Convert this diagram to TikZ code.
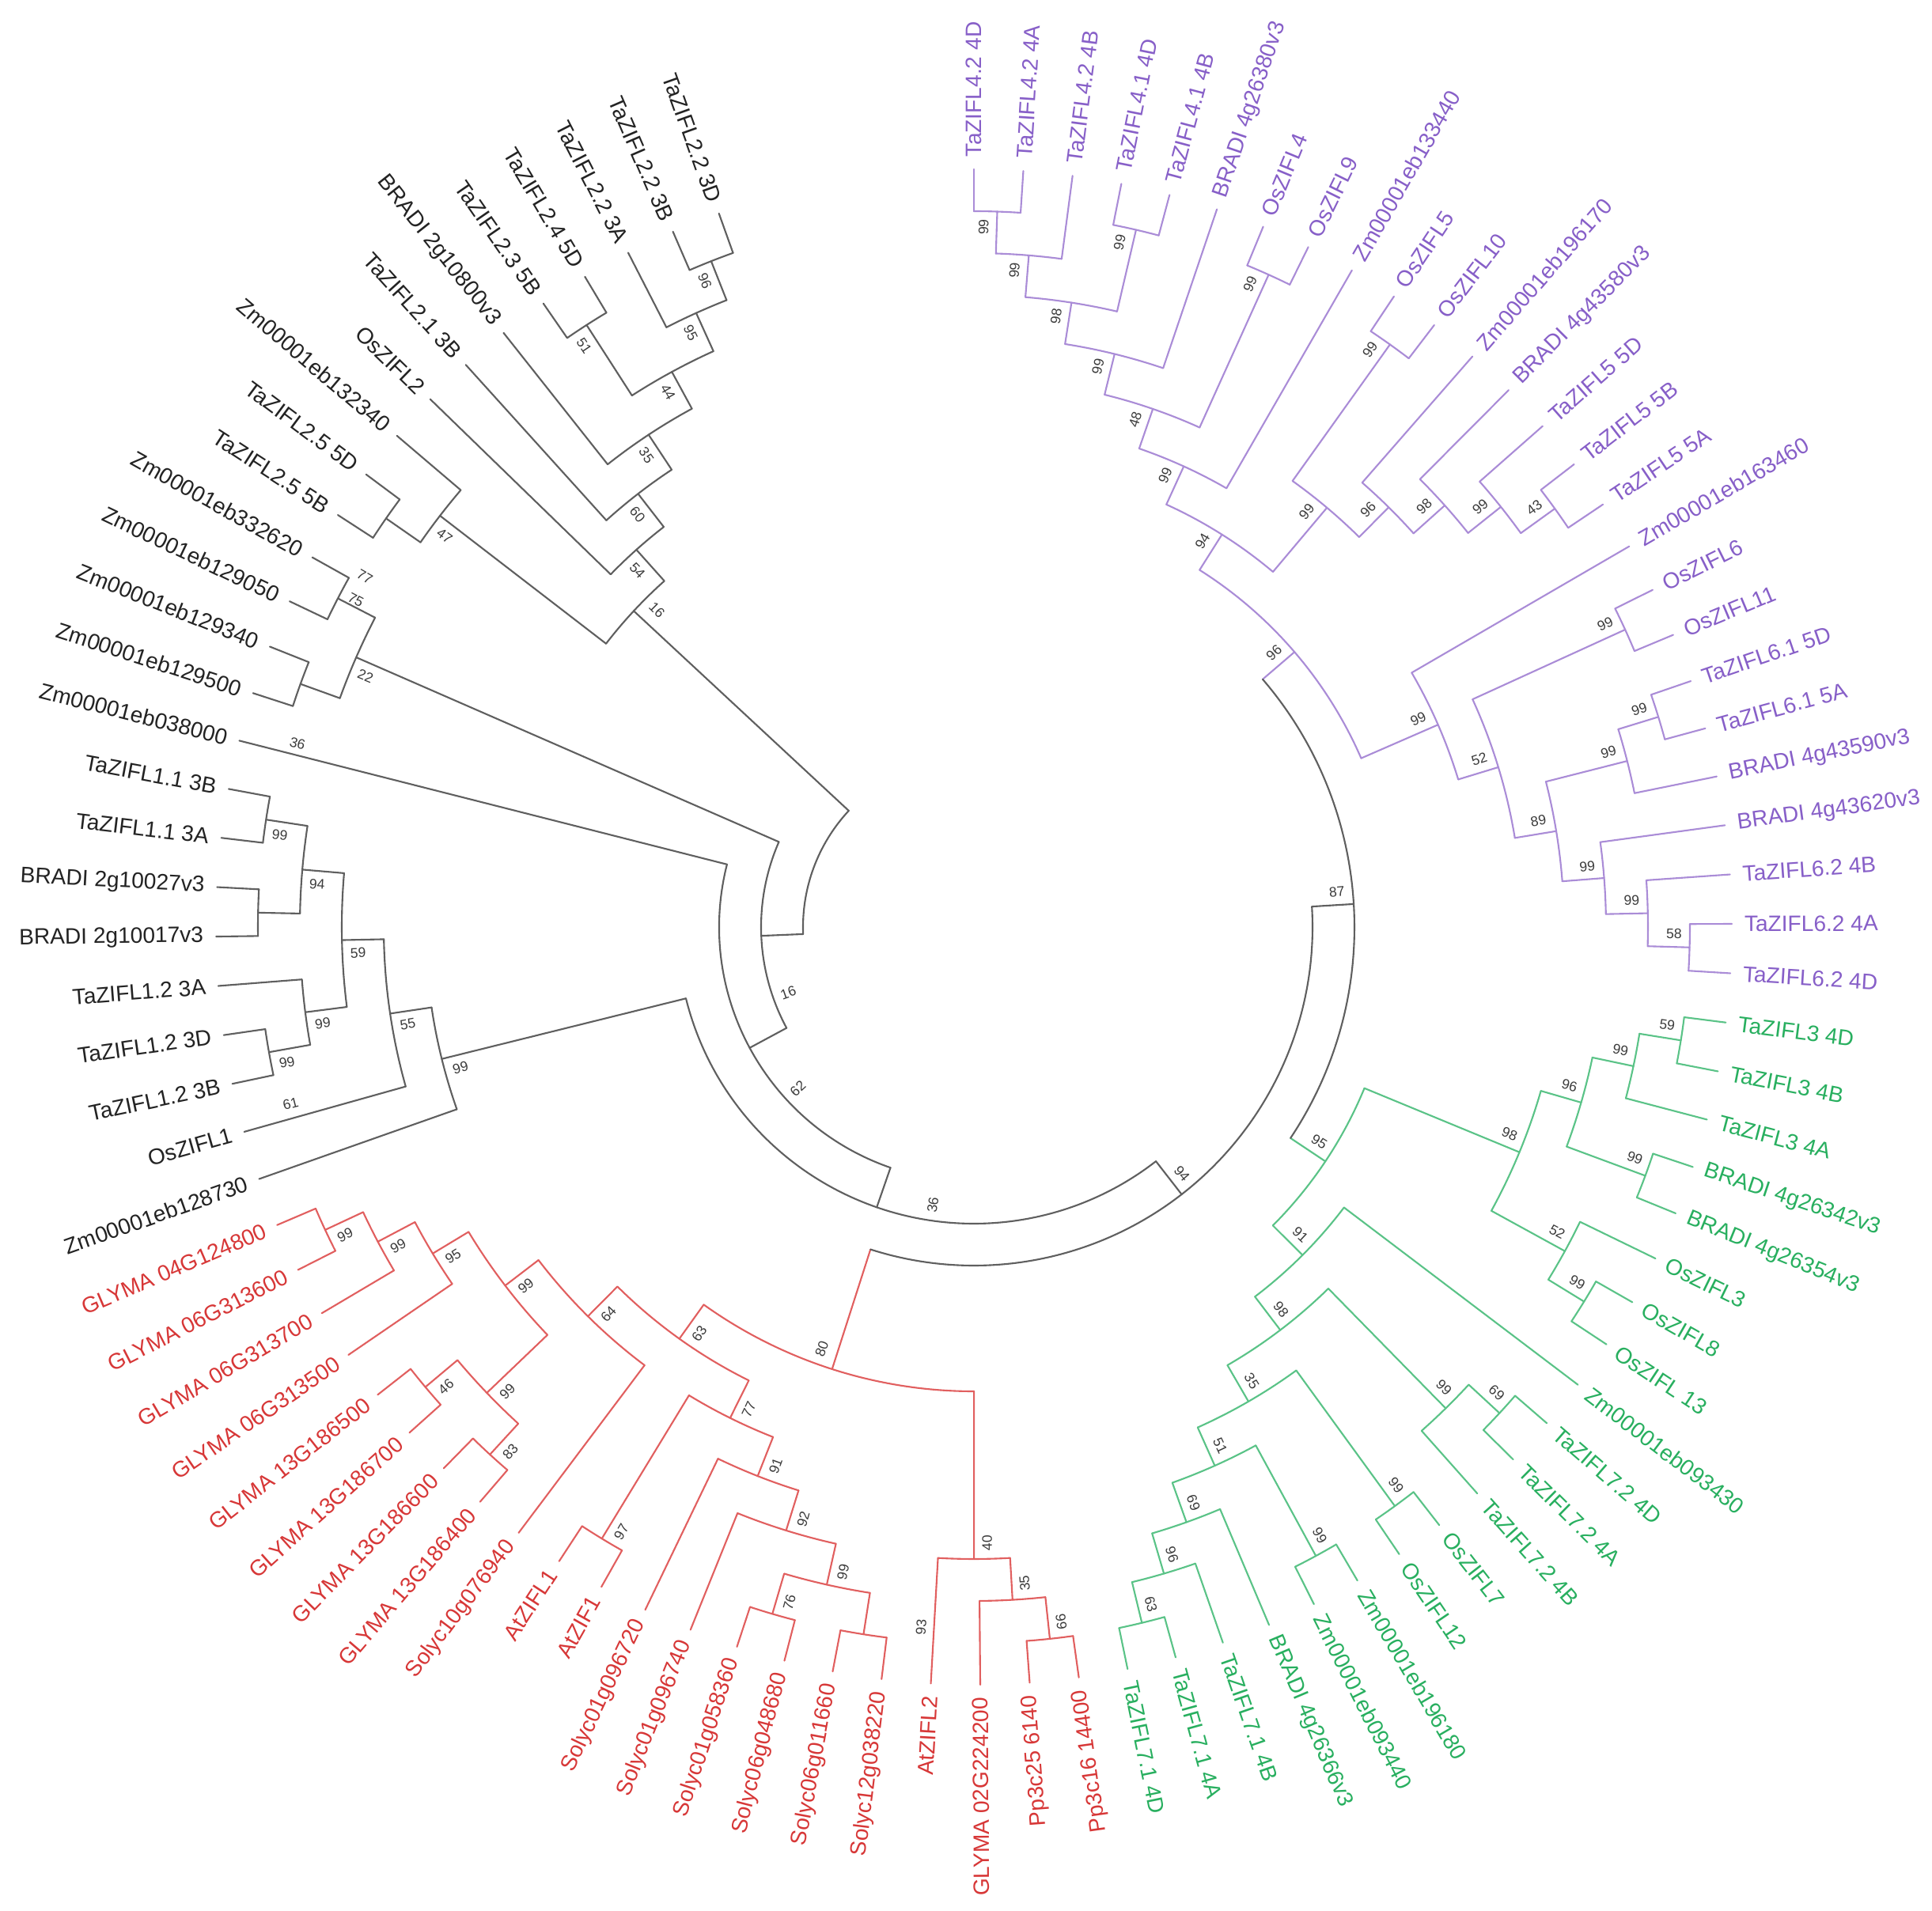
\documentclass[tikz,border=0pt]{standalone}
\usepackage{fontspec}
\setmainfont{Liberation Sans}
\definecolor{pu}{RGB}{170,140,215}
\definecolor{putxt}{RGB}{135,95,200}
\definecolor{gr}{RGB}{90,195,135}
\definecolor{grtxt}{RGB}{40,175,95}
\definecolor{rd}{RGB}{225,95,95}
\definecolor{rdtxt}{RGB}{215,55,55}
\definecolor{bk}{RGB}{95,95,95}
\definecolor{bktxt}{RGB}{35,35,35}
\definecolor{bootc}{RGB}{60,60,60}
\def\Rtip{9.58}
\def\stepr{0.53}
\tikzset{
  branch/.style={line width=0.6pt, line cap=round, line join=round},
  leaflab/.style={font=\fontsize{8}{9.6}\selectfont, inner sep=0pt, outer sep=0pt},
  boot/.style={font=\fontsize{5}{6}\selectfont, text=bootc, inner sep=0pt},
}
\newcommand\mkleaf[4]{%
  \pgfmathsetmacro\tmpa{90-(#2-1)*3.74}%
  \expandafter\xdef\csname zfa#1\endcsname{\tmpa}%
  \expandafter\xdef\csname zfc#1\endcsname{#4}%
  \coordinate (#1) at (\tmpa:\Rtip);%
  \pgfmathsetmacro\tmpr{\Rtip+0.16}%
  \ifdim\tmpa pt<-80pt\relax
    \pgfmathsetmacro\tmprot{\tmpa+180}%
    \node[leaflab,text=#4txt,anchor=east,rotate=\tmprot] (#1-lab) at (\tmpa:\tmpr) {#3};%
  \else
    \node[leaflab,text=#4txt,anchor=west,rotate=\tmpa] (#1-lab) at (\tmpa:\tmpr) {#3};%
  \fi
}
\newcommand\zfbootat[3]{%
  \ifdim#1pt<-80pt\relax
    \pgfmathsetmacro\tmprot{#1+180}%
  \else
    \pgfmathsetmacro\tmprot{#1}%
  \fi
  \node[boot,rotate=\tmprot] at (#1:#2) {#3};%
}
\newcommand\mknode[7][0]{%
  \edef\zfaA{\csname zfa#4\endcsname}%
  \edef\zfaB{\csname zfa#5\endcsname}%
  \edef\zfcA{\csname zfc#4\endcsname}%
  \edef\zfcB{\csname zfc#5\endcsname}%
  \pgfmathsetmacro\tmpa{(\zfaA+\zfaB)/2}%
  \pgfmathsetmacro\tmpr{\Rtip-#3*\stepr}%
  \expandafter\xdef\csname zfa#2\endcsname{\tmpa}%
  \expandafter\xdef\csname zfc#2\endcsname{#6}%
  \coordinate (#2) at (\tmpa:\tmpr);%
  \draw[branch,draw=\zfcA] (\zfaA:\tmpr) -- (#4);%
  \draw[branch,draw=\zfcB] (\zfaB:\tmpr) -- (#5);%
  \draw[branch,draw=#6] (\zfaA:\tmpr) arc[start angle=\zfaA, end angle=\zfaB, radius=\tmpr];%
  \def\zfboot{#7}%
  \ifx\zfboot\empty\else
    \pgfmathsetmacro\tmpba{\tmpa+0.17/\tmpr*57.2958+#1}%
    \pgfmathsetmacro\tmpbr{\tmpr-0.2}%
    \zfbootat{\tmpba}{\tmpbr}{#7}%
  \fi
}
\begin{document}
\begin{tikzpicture}
\useasboundingbox (-12.31,-12.43) rectangle (12.11,11.72);
\fill[white] (-12.31,-12.43) rectangle (12.11,11.72);
% ---------------- leaves ----------------
\mkleaf{L1}{1}{TaZIFL4.2 4D}{pu}
\mkleaf{L2}{2}{TaZIFL4.2 4A}{pu}
\mkleaf{L3}{3}{TaZIFL4.2 4B}{pu}
\mkleaf{L4}{4}{TaZIFL4.1 4D}{pu}
\mkleaf{L5}{5}{TaZIFL4.1 4B}{pu}
\mkleaf{L6}{6}{BRADI 4g26380v3}{pu}
\mkleaf{L7}{7}{OsZIFL4}{pu}
\mkleaf{L8}{8}{OsZIFL9}{pu}
\mkleaf{L9}{9}{Zm00001eb133440}{pu}
\mkleaf{L10}{10}{OsZIFL5}{pu}
\mkleaf{L11}{11}{OsZIFL10}{pu}
\mkleaf{L12}{12}{Zm00001eb196170}{pu}
\mkleaf{L13}{13}{BRADI 4g43580v3}{pu}
\mkleaf{L14}{14}{TaZIFL5 5D}{pu}
\mkleaf{L15}{15}{TaZIFL5 5B}{pu}
\mkleaf{L16}{16}{TaZIFL5 5A}{pu}
\mkleaf{L17}{17}{Zm00001eb163460}{pu}
\mkleaf{L18}{18}{OsZIFL6}{pu}
\mkleaf{L19}{19}{OsZIFL11}{pu}
\mkleaf{L20}{20}{TaZIFL6.1 5D}{pu}
\mkleaf{L21}{21}{TaZIFL6.1 5A}{pu}
\mkleaf{L22}{22}{BRADI 4g43590v3}{pu}
\mkleaf{L23}{23}{BRADI 4g43620v3}{pu}
\mkleaf{L24}{24}{TaZIFL6.2 4B}{pu}
\mkleaf{L25}{25}{TaZIFL6.2 4A}{pu}
\mkleaf{L26}{26}{TaZIFL6.2 4D}{pu}
\mkleaf{L27}{27}{TaZIFL3 4D}{gr}
\mkleaf{L28}{28}{TaZIFL3 4B}{gr}
\mkleaf{L29}{29}{TaZIFL3 4A}{gr}
\mkleaf{L30}{30}{BRADI 4g26342v3}{gr}
\mkleaf{L31}{31}{BRADI 4g26354v3}{gr}
\mkleaf{L32}{32}{OsZIFL3}{gr}
\mkleaf{L33}{33}{OsZIFL8}{gr}
\mkleaf{L34}{34}{OsZIFL 13}{gr}
\mkleaf{L35}{35}{Zm00001eb093430}{gr}
\mkleaf{L36}{36}{TaZIFL7.2 4D}{gr}
\mkleaf{L37}{37}{TaZIFL7.2 4A}{gr}
\mkleaf{L38}{38}{TaZIFL7.2 4B}{gr}
\mkleaf{L39}{39}{OsZIFL7}{gr}
\mkleaf{L40}{40}{OsZIFL12}{gr}
\mkleaf{L41}{41}{Zm00001eb196180}{gr}
\mkleaf{L42}{42}{Zm00001eb093440}{gr}
\mkleaf{L43}{43}{BRADI 4g26366v3}{gr}
\mkleaf{L44}{44}{TaZIFL7.1 4B}{gr}
\mkleaf{L45}{45}{TaZIFL7.1 4A}{gr}
\mkleaf{L46}{46}{TaZIFL7.1 4D}{gr}
\mkleaf{L47}{47}{Pp3c16 14400}{rd}
\mkleaf{L48}{48}{Pp3c25 6140}{rd}
\mkleaf{L49}{49}{GLYMA 02G224200}{rd}
\mkleaf{L50}{50}{AtZIFL2}{rd}
\mkleaf{L51}{51}{Solyc12g038220}{rd}
\mkleaf{L52}{52}{Solyc06g011660}{rd}
\mkleaf{L53}{53}{Solyc06g048680}{rd}
\mkleaf{L54}{54}{Solyc01g058360}{rd}
\mkleaf{L55}{55}{Solyc01g096740}{rd}
\mkleaf{L56}{56}{Solyc01g096720}{rd}
\mkleaf{L57}{57}{AtZIF1}{rd}
\mkleaf{L58}{58}{AtZIFL1}{rd}
\mkleaf{L59}{59}{Solyc10g076940}{rd}
\mkleaf{L60}{60}{GLYMA 13G186400}{rd}
\mkleaf{L61}{61}{GLYMA 13G186600}{rd}
\mkleaf{L62}{62}{GLYMA 13G186700}{rd}
\mkleaf{L63}{63}{GLYMA 13G186500}{rd}
\mkleaf{L64}{64}{GLYMA 06G313500}{rd}
\mkleaf{L65}{65}{GLYMA 06G313700}{rd}
\mkleaf{L66}{66}{GLYMA 06G313600}{rd}
\mkleaf{L67}{67}{GLYMA 04G124800}{rd}
\mkleaf{L68}{68}{Zm00001eb128730}{bk}
\mkleaf{L69}{69}{OsZIFL1}{bk}
\mkleaf{L70}{70}{TaZIFL1.2 3B}{bk}
\mkleaf{L71}{71}{TaZIFL1.2 3D}{bk}
\mkleaf{L72}{72}{TaZIFL1.2 3A}{bk}
\mkleaf{L73}{73}{BRADI 2g10017v3}{bk}
\mkleaf{L74}{74}{BRADI 2g10027v3}{bk}
\mkleaf{L75}{75}{TaZIFL1.1 3A}{bk}
\mkleaf{L76}{76}{TaZIFL1.1 3B}{bk}
\mkleaf{L77}{77}{Zm00001eb038000}{bk}
\mkleaf{L78}{78}{Zm00001eb129500}{bk}
\mkleaf{L79}{79}{Zm00001eb129340}{bk}
\mkleaf{L80}{80}{Zm00001eb129050}{bk}
\mkleaf{L81}{81}{Zm00001eb332620}{bk}
\mkleaf{L82}{82}{TaZIFL2.5 5B}{bk}
\mkleaf{L83}{83}{TaZIFL2.5 5D}{bk}
\mkleaf{L84}{84}{Zm00001eb132340}{bk}
\mkleaf{L85}{85}{OsZIFL2}{bk}
\mkleaf{L86}{86}{TaZIFL2.1 3B}{bk}
\mkleaf{L87}{87}{BRADI 2g10800v3}{bk}
\mkleaf{L88}{88}{TaZIFL2.3 5B}{bk}
\mkleaf{L89}{89}{TaZIFL2.4 5D}{bk}
\mkleaf{L90}{90}{TaZIFL2.2 3A}{bk}
\mkleaf{L91}{91}{TaZIFL2.2 3B}{bk}
\mkleaf{L92}{92}{TaZIFL2.2 3D}{bk}
% ---------------- purple clade ----------------
\mknode{P1}{1}{L1}{L2}{pu}{99}
\mknode{P2}{2}{P1}{L3}{pu}{99}
\mknode{P3}{1}{L4}{L5}{pu}{99}
\mknode{P4}{3}{P2}{P3}{pu}{98}
\mknode{P5}{4}{P4}{L6}{pu}{99}
\mknode{P6}{1}{L7}{L8}{pu}{99}
\mknode{P7}{5}{P5}{P6}{pu}{48}
\mknode{P8}{6}{P7}{L9}{pu}{99}
\mknode{P10}{1}{L10}{L11}{pu}{99}
\mknode{N43}{1}{L15}{L16}{pu}{43}
\mknode{N99b}{2}{L14}{N43}{pu}{99}
\mknode{N98}{3}{L13}{N99b}{pu}{98}
\mknode{N96}{4}{L12}{N98}{pu}{96}
\mknode{P11}{5}{P10}{N96}{pu}{99}
\mknode{P9}{7}{P8}{P11}{pu}{94}
\mknode{Q2}{1}{L18}{L19}{pu}{99}
\mknode{Q3}{1}{L20}{L21}{pu}{99}
\mknode{Q4}{2}{Q3}{L22}{pu}{99}
\mknode{Q5}{1}{L25}{L26}{pu}{58}
\mknode{Q6}{2}{L24}{Q5}{pu}{99}
\mknode{Q7}{3}{L23}{Q6}{pu}{99}
\mknode{Q8}{4}{Q4}{Q7}{pu}{89}
\mknode{Q9}{5}{Q2}{Q8}{pu}{52}
\mknode{Q10}{6}{L17}{Q9}{pu}{99}
\mknode{Q11}{8}{P9}{Q10}{pu}{96}
% ---------------- green clade ----------------
\mknode{GN1}{1}{L27}{L28}{gr}{59}
\mknode{GN2}{2}{GN1}{L29}{gr}{99}
\mknode{GN3}{1}{L30}{L31}{gr}{99}
\mknode{GN4}{3}{GN2}{GN3}{gr}{96}
\mknode{GN5}{1}{L33}{L34}{gr}{99}
\mknode{GN6}{2}{L32}{GN5}{gr}{52}
\mknode{GN7}{4}{GN4}{GN6}{gr}{98}
\mknode{GS1}{1}{L36}{L37}{gr}{69}
\mknode{GS2}{2}{GS1}{L38}{gr}{99}
\mknode{GS3}{1}{L39}{L40}{gr}{99}
\mknode{GS4}{1}{L41}{L42}{gr}{99}
\mknode{GS5}{1}{L45}{L46}{gr}{63}
\mknode{GS6}{2}{L44}{GS5}{gr}{96}
\mknode{GS7}{3}{L43}{GS6}{gr}{69}
\mknode{GS8}{4}{GS4}{GS7}{gr}{51}
\mknode{GS9}{5}{GS3}{GS8}{gr}{35}
\mknode{GS10}{6}{GS2}{GS9}{gr}{98}
\mknode{G91}{7}{L35}{GS10}{gr}{91}
\mknode{Gtop}{8}{GN7}{G91}{gr}{95}
\mknode{N87}{9}{Q11}{Gtop}{bk}{87}
% ---------------- red clade ----------------
\mknode{R1}{1}{L47}{L48}{rd}{66}
\mknode{R2}{2}{R1}{L49}{rd}{35}
\mknode{R3}{3}{R2}{L50}{rd}{40}
\mknode{RS1}{1}{L51}{L52}{rd}{}
\mknode{RS2}{1}{L53}{L54}{rd}{76}
\mknode{RS3}{2}{RS1}{RS2}{rd}{99}
\mknode{RS4}{3}{RS3}{L55}{rd}{92}
\mknode{RS5}{4}{RS4}{L56}{rd}{91}
\mknode{RA}{1}{L57}{L58}{rd}{97}
\mknode{RS6}{5}{RS5}{RA}{rd}{77}
\mknode{g1}{1}{L66}{L67}{rd}{99}
\mknode{g2}{2}{L65}{g1}{rd}{99}
\mknode{g3}{3}{L64}{g2}{rd}{95}
\mknode{g4}{1}{L62}{L63}{rd}{46}
\mknode{g5}{1}{L60}{L61}{rd}{83}
\mknode{g6}{2}{g5}{g4}{rd}{99}
\mknode{g7}{4}{g6}{g3}{rd}{99}
\mknode{g8}{5}{L59}{g7}{rd}{64}
\mknode{Rleft}{6}{RS6}{g8}{rd}{63}
\mknode[-3.7]{Rroot}{7}{R3}{Rleft}{rd}{80}
\mknode{Nm}{10}{N87}{Rroot}{bk}{94}
% ---------------- black clades ----------------
\mknode{B1}{1}{L70}{L71}{bk}{99}
\mknode{B2}{2}{L72}{B1}{bk}{99}
\mknode{B3}{1}{L73}{L74}{bk}{}
\mknode{B4}{1}{L75}{L76}{bk}{99}
\mknode{B5}{2}{B3}{B4}{bk}{94}
\mknode{B6}{3}{B2}{B5}{bk}{59}
\mknode{B7}{4}{L69}{B6}{bk}{55}
\mknode{Black1}{5}{L68}{B7}{bk}{99}
\mknode[8.1]{Nk}{11}{Nm}{Black1}{bk}{36}
\mknode[11.2]{N62}{12}{Nk}{L77}{bk}{62}
\mknode{Z1}{1}{L78}{L79}{bk}{}
\mknode{Z2}{1}{L80}{L81}{bk}{}
\mknode{Z3}{2}{Z1}{Z2}{bk}{22}
\mknode[13.5]{NB}{13}{N62}{Z3}{bk}{16}
\mknode{H0}{1}{L82}{L83}{bk}{}
\mknode{H1}{2}{H0}{L84}{bk}{47}
\mknode{T1}{1}{L88}{L89}{bk}{51}
\mknode{T2}{1}{L91}{L92}{bk}{96}
\mknode{T3}{2}{L90}{T2}{bk}{95}
\mknode{T4}{3}{T1}{T3}{bk}{44}
\mknode{T5}{4}{L87}{T4}{bk}{35}
\mknode{T6}{5}{L86}{T5}{bk}{60}
\mknode{T7}{6}{L85}{T6}{bk}{54}
\mknode[-3.8]{G2}{7}{H1}{T7}{bk}{16}
\mknode{X}{14}{NB}{G2}{bk}{}
% ---------------- loose support values ----------------
\zfbootat{-195.2}{8.86}{36}
\zfbootat{-165.5}{8.92}{61}
\zfbootat{-94.3}{8.88}{93}
\zfbootat{-207.9}{8.84}{75}
\zfbootat{-209.9}{8.88}{77}
\end{tikzpicture}
\end{document}
